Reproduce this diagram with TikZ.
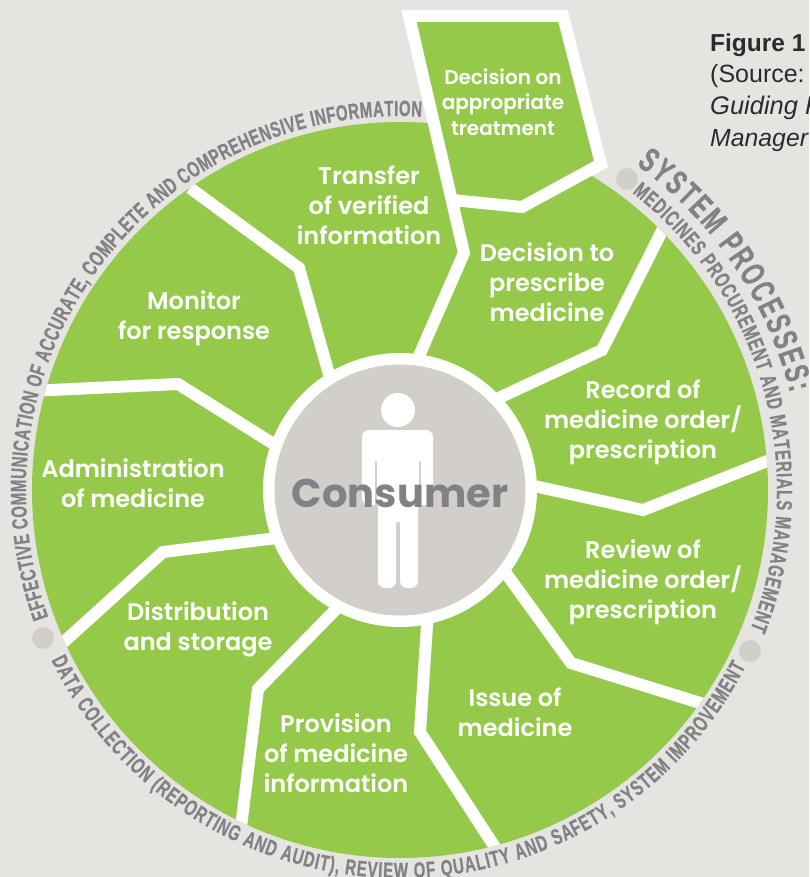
\documentclass[tikz,border=0pt]{standalone}
\usepackage{fontspec}
\usetikzlibrary{decorations.text}
\setmainfont{Liberation Sans}
\newfontfamily\labfont{Poppins SemiBold}
\newfontfamily\consfont{Poppins}
\newfontfamily\arcfont[FakeStretch=0.68,FakeBold=0.6]{Liberation Sans Bold}
\newfontfamily\sysfont[FakeStretch=0.66,FakeBold=0.8]{Liberation Sans Bold}
\definecolor{bgc}{HTML}{E5E4E0}
\definecolor{leaf}{HTML}{95C94A}
\definecolor{disc}{HTML}{D2CEC9}
\definecolor{tgray}{HTML}{808285}
\definecolor{capt}{HTML}{2B2B2B}
\tikzset{
  divider/.style={draw=white,line width=12pt,miter limit=10,line join=miter},
  biglabel/.style={text=white,align=center,inner sep=0pt,font=\labfont\fontsize{24}{30}\selectfont},
  boxlabel/.style={text=white,align=center,inner sep=0pt,font=\labfont\fontsize{20}{25.5}\selectfont},
  caption/.style={anchor=base west,inner sep=0pt,text=capt,font=\fontsize{25}{30}\selectfont},
  dotmark/.style={fill=disc,draw=none,circle,minimum size=22pt,inner sep=0pt},
  arctext/.style={decorate,decoration={text along path,text align=fit to path,text format delimiters={|}{|},text={#1}}}
}
\newcommand{\sm}{|\arcfont\fontsize{22}{24}\selectfont\color{tgray}|}
\begin{document}
\begin{tikzpicture}[x=1pt,y=1pt]
\useasboundingbox (0,0) rectangle (809,-877);
\clip (0,0) rectangle (809,-877);
\fill[bgc] (0,0) rectangle (809,-877);
\coordinate (c) at (400,-490);
% wheel
\fill[leaf] (c) circle[radius=368];
\begin{scope}
\clip (c) circle[radius=368];
\draw[divider] (190,-188) -- (299,-268) -- (332,-385);
\draw[divider] (30,-391) -- (178,-384) -- (280,-448);
\draw[divider] (55,-650) -- (163,-552) -- (285,-537);
\draw[divider] (345,-600) -- (258,-689) -- (240,-835);
\draw[divider] (428,-610) -- (420,-732) -- (500,-855);
\draw[divider] (500,-565) -- (571,-663) -- (710,-706);
\draw[divider] (525,-484) -- (643,-510) -- (780,-456);
\draw[divider] (490,-402) -- (602,-350) -- (670,-215);
\end{scope}
% raised box
\fill[leaf] (409,-16) -- (563,-16) -- (601,-164) -- (522,-207) -- (452,-200) -- cycle;
\draw[divider] (452,-200) -- (522,-207) -- (601,-164) -- (563,-16) -- (409,-16) -- (464,-253) -- (415,-365);
% centre
\fill[white] (c) circle[radius=137];
\fill[disc] (c) circle[radius=125.5];
% person
\fill[white] (398,-410) circle[radius=17];
\fill[white,rounded corners=7pt] (362,-505) -- (362,-430) -- (433,-430) -- (433,-505) -- cycle;
\fill[white,rounded corners=7pt] (378,-588) -- (378,-470) -- (396,-470) -- (396,-588) -- cycle;
\fill[white,rounded corners=7pt] (400,-588) -- (400,-470) -- (418,-470) -- (418,-588) -- cycle;
\fill[white] (378,-470) rectangle (418,-522);
\draw[disc,line width=2pt,line cap=round] (376,-462) -- (376,-506);
\draw[disc,line width=2pt,line cap=round] (420,-462) -- (420,-506);
\node[text=tgray,inner sep=0pt,font=\consfont\fontsize{40}{40}\selectfont\bfseries] (consumer) at (400,-493) {Consumer};
% dots
\node[dotmark] (d1) at (627,-179) {};
\node[dotmark] (d2) at (750,-651) {};
\node[dotmark] (d3) at (43,-638) {};
% labels
\node[boxlabel] (l0) at (503,-102) {Decision on\\appropriate\\treatment};
\node[biglabel] (l1) at (369,-205) {Transfer\\of verified\\information};
\node[biglabel] (l2) at (547,-282) {Decision to\\prescribe\\medicine};
\node[biglabel] (l3) at (194,-318) {Monitor\\for response};
\node[biglabel] (l4) at (643,-422) {Record of\\medicine order/\\prescription};
\node[biglabel] (l5) at (133,-483) {Administration\\of medicine};
\node[biglabel] (l6) at (643,-582) {Review of\\medicine order/\\prescription};
\node[biglabel] (l7) at (198,-629) {Distribution\\and storage};
\node[biglabel] (l8) at (336,-753) {Provision\\of medicine\\information};
\node[biglabel] (l9) at (515,-712) {Issue of\\medicine};
% arc texts
\path[arctext={\sm EFFECTIVE COMMUNICATION OF ACCURATE, COMPLETE AND COMPREHENSIVE INFORMATION}]
  ([shift={(199.9:374)}]c) arc[start angle=199.9,end angle=86.7,radius=374];
\path[arctext={\sm MEDICINES PROCUREMENT AND MATERIALS MANAGEMENT}]
  ([shift={(52:377)}]c) arc[start angle=52,end angle=-21.6,radius=377];
\path[arctext={|\sysfont\fontsize{34}{36}\selectfont\color{tgray}|SYSTEM PROCESSES:}]
  ([shift={(54:402)}]c) arc[start angle=54,end angle=14,radius=402];
\path[arctext={\sm DATA COLLECTION (REPORTING AND AUDIT), REVIEW OF QUALITY AND SAFETY, SYSTEM IMPROVEMENT}]
  ([shift={(206:388)}]c) arc[start angle=206,end angle=333,radius=388];
% caption
\node[caption,font=\fontsize{24.5}{30}\selectfont\bfseries] (f1) at (710,-52) {Figure 1};
\node[caption] (f2) at (710,-83) {(Source:};
\node[caption,font=\fontsize{25.5}{30}\selectfont\itshape] (f3) at (710,-115) {Guiding P};
\node[caption,font=\fontsize{24.8}{30}\selectfont\itshape] (f4) at (710,-147) {Manager};
\end{tikzpicture}
\end{document}
